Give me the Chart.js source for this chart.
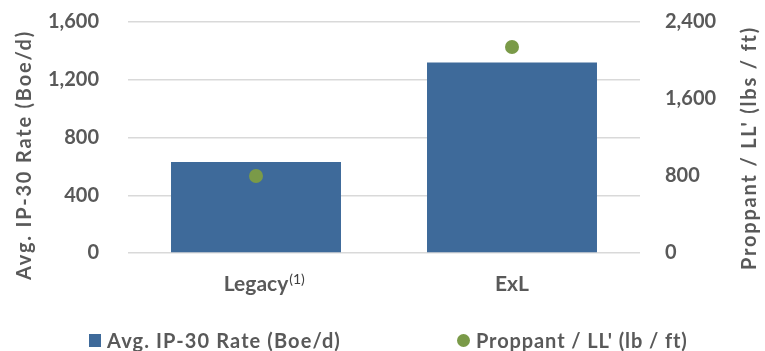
<!DOCTYPE html>
<html>
<head>
<meta charset="utf-8">
<script src="https://cdn.jsdelivr.net/npm/chart.js@4/dist/chart.umd.min.js"></script>
<style>
  html, body { margin: 0; padding: 0; background: #ffffff; }
  #wrap { position: relative; width: 765px; height: 351px; }
  #legend {
    position: absolute; left: 89px; top: 328px;
    display: flex; align-items: center; gap: 116px;
    font: bold 20px Lato, 'Open Sans', sans-serif; color: #595959;
    white-space: nowrap;
  }
  #legend .item { display: flex; align-items: center; }
  #legend .swatch { display: inline-block; margin-right: 6px; }
</style>
</head>
<body>
<div id="wrap">
  <canvas id="c" width="765" height="351"></canvas>
  <div id="legend"></div>
</div>
<script>
// Well types on the category axis
const categories = ["Legacy", "ExL"];
// Superscript footnote markers appended after category names
const footnotes = ["(1)", ""];
// Average IP-30 rate, Boe/d (left axis)
const ipRate = [630, 1320];
// Proppant per lateral foot, lbs/ft (right axis)
const proppant = [800, 2140];
// Axis tick ranges
const leftTicks = { max: 1600, step: 400 };
const rightTicks = { max: 2400, step: 800 };
// Axis titles
const leftTitle = "Avg. IP-30 Rate (Boe/d)";
const rightTitle = "Proppant / LL' (lbs / ft)";

const FONT = "Lato, 'Open Sans', sans-serif";
const GREY = "#595959";
const BLUE = "#3E6A9A";
const GREEN = "#7A9A48";

// Small raised footnote marker next to a category label
const footnotePlugin = {
  id: "footnotes",
  afterDraw(chart) {
    const xs = chart.scales.x;
    const ctx = chart.ctx;
    const f = xs.options.ticks.font;
    ctx.save();
    categories.forEach((cat, i) => {
      if (!footnotes[i]) return;
      ctx.font = `${f.weight} ${f.size}px ${FONT}`;
      const w = ctx.measureText(cat).width;
      const x = xs.getPixelForTick(i) + w / 2 + 1;
      ctx.font = `normal 14px ${FONT}`;
      ctx.fillStyle = "#404040";
      ctx.textAlign = "left";
      ctx.textBaseline = "middle";
      ctx.fillText(footnotes[i], x, chart.chartArea.bottom + 26);
    });
    ctx.restore();
  }
};

// Vertical axis titles, both reading bottom-to-top
const axisTitlePlugin = {
  id: "axisTitles",
  afterDraw(chart) {
    const ctx = chart.ctx;
    const draw = (text, x, y) => {
      ctx.save();
      ctx.translate(x, y);
      ctx.rotate(-Math.PI / 2);
      ctx.font = `bold 20px ${FONT}`;
      ctx.letterSpacing = "1.8px";
      ctx.fillStyle = GREY;
      ctx.textAlign = "center";
      ctx.textBaseline = "middle";
      ctx.fillText(text, 0, 0);
      ctx.restore();
    };
    draw(leftTitle, chart.scales.y.left + 25, 155);
    draw(rightTitle, chart.scales.y2.right - 15, 148);
  }
};

// Fixed axis width; the label gap should not push the plot area down
const fixWidth = w => s => {
  s.width = w;
  s.paddingTop = 0;
  s.paddingBottom = 0;
};

const chart = new Chart(document.getElementById("c"), {
  data: {
    labels: categories,
    datasets: [
      {
        type: "bar",
        label: "Avg. IP-30 Rate (Boe/d)",
        data: ipRate,
        yAxisID: "y",
        backgroundColor: BLUE,
        borderWidth: 0,
        categoryPercentage: 0.664,
        barPercentage: 1,
        order: 1
      },
      {
        type: "line",
        label: "Proppant / LL' (lb / ft)",
        data: proppant,
        yAxisID: "y2",
        showLine: false,
        pointRadius: 7,
        pointHoverRadius: 7,
        backgroundColor: GREEN,
        borderColor: GREEN,
        borderWidth: 0,
        order: 0
      }
    ]
  },
  options: {
    responsive: false,
    animation: false,
    devicePixelRatio: 1,
    layout: { padding: { top: 22, bottom: 40, left: 0, right: 0 } },
    plugins: {
      tooltip: { enabled: false },
      legend: { display: false }
    },
    scales: {
      x: {
        grid: { display: false, drawTicks: false },
        border: { display: false },
        ticks: {
          color: GREY,
          padding: 19,
          font: { family: FONT, size: 21, weight: "bold" }
        },
        afterFit(s) { s.height = 58; }
      },
      y: {
        position: "left",
        min: 0,
        max: leftTicks.max,
        ticks: {
          stepSize: leftTicks.step,
          color: GREY,
          padding: 29,
          font: { family: FONT, size: 20, weight: "bold" },
          callback: v => v.toLocaleString("en-US")
        },
        grid: { color: "#D9D9D9", lineWidth: 1.5, drawTicks: false },
        border: { display: false },
        afterFit: fixWidth(128)
      },
      y2: {
        position: "right",
        min: 0,
        max: rightTicks.max,
        ticks: {
          stepSize: rightTicks.step,
          color: GREY,
          padding: 25,
          font: { family: FONT, size: 20, weight: "bold" },
          callback: v => v.toLocaleString("en-US")
        },
        grid: { display: false, drawTicks: false },
        border: { display: false },
        afterFit: fixWidth(125)
      }
    }
  },
  plugins: [footnotePlugin, axisTitlePlugin]
});

// Legend built from the chart's datasets
const legend = document.getElementById("legend");
chart.data.datasets.forEach((ds, i) => {
  const item = document.createElement("span");
  item.className = "item";
  const sw = document.createElement("span");
  sw.className = "swatch";
  sw.style.background = ds.backgroundColor;
  if (ds.type === "bar") {
    sw.style.width = "12px"; sw.style.height = "13px";
  } else {
    sw.style.width = "13px"; sw.style.height = "13px"; sw.style.borderRadius = "50%";
  }
  const tx = document.createElement("span");
  tx.textContent = ds.label;
  tx.style.letterSpacing = i === 0 ? "1.1px" : "0.9px";
  item.appendChild(sw);
  item.appendChild(tx);
  legend.appendChild(item);
});
</script>
</body>
</html>
